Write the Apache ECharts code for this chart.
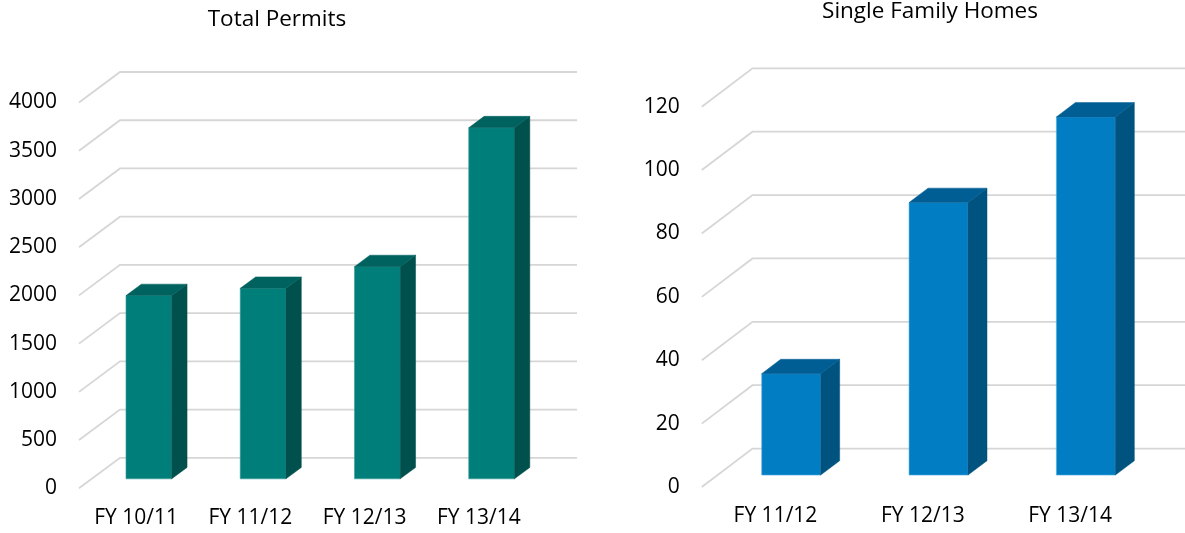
<!DOCTYPE html>
<html>
<head>
<meta charset="utf-8">
<script src="https://cdn.jsdelivr.net/npm/echarts@6/dist/echarts.min.js"></script>
<style>
html,body{margin:0;padding:0;background:#fff;}
#chart{width:1185px;height:533px;}
</style>
</head>
<body>
<div id="chart"></div>
<script>
// ---- data ----
const permitCategories = ['FY 10/11', 'FY 11/12', 'FY 12/13', 'FY 13/14'];
const permitValues = [1900, 1975, 2200, 3640];
const permitTicks = [0, 500, 1000, 1500, 2000, 2500, 3000, 3500, 4000];

const sfhCategories = ['FY 11/12', 'FY 12/13', 'FY 13/14'];
const sfhValues = [32, 86, 113];
const sfhTicks = [0, 20, 40, 60, 80, 100, 120];

// ---- styling / 3D projection ----
const FONT = 'Open Sans';
const leftDepth = [41, -30.5];
const rightDepth = [50.7, -38.4];
const FRONT_OFFSET = 0.31;
const BAR_DEPTH = 0.375;
const BAR_WIDTH = 0.40;
const tealColors = { front: '#007E7A', side: '#00504D', top: '#00625F', edge: '#3a9e9a' };
const blueColors = { front: '#007DC3', side: '#00527F', top: '#005E94', edge: '#5aaee0' };

function gridRender(D) {
  return function (params, api) {
    const cs = params.coordSys;
    const y = api.coord([0, api.value(1)])[1];
    const xl = cs.x, xr = cs.x + cs.width;
    return {
      type: 'polyline',
      shape: { points: [[xl, y], [xl + D[0], y + D[1]], [xr + D[0], y + D[1]]] },
      style: { stroke: '#d6d6d6', lineWidth: 1.8, fill: null },
      silent: true
    };
  };
}

function barRender(D, c) {
  return function (params, api) {
    const idx = api.value(0), v = api.value(1);
    const base = api.coord([idx, 0]);
    const top = api.coord([idx, v]);
    const bw = api.size([1, 0])[0];
    const w = bw * BAR_WIDTH;
    const x0 = base[0] - w / 2 + D[0] * FRONT_OFFSET;
    const x1 = x0 + w;
    const yb = base[1] + D[1] * FRONT_OFFSET;
    const yt = top[1] + D[1] * FRONT_OFFSET;
    const dx = D[0] * BAR_DEPTH, dy = D[1] * BAR_DEPTH;
    return {
      type: 'group',
      children: [
        { type: 'polygon', shape: { points: [[x0, yb], [x1, yb], [x1, yt], [x0, yt]] },
          style: { fill: c.front, stroke: c.edge, lineWidth: 0.6 } },
        { type: 'polygon', shape: { points: [[x1, yb], [x1 + dx, yb + dy], [x1 + dx, yt + dy], [x1, yt]] },
          style: { fill: c.side, stroke: c.side, lineWidth: 0.5 } },
        { type: 'polygon', shape: { points: [[x0, yt], [x1, yt], [x1 + dx, yt + dy], [x0 + dx, yt + dy]] },
          style: { fill: c.top, stroke: c.top, lineWidth: 0.5 } }
      ]
    };
  };
}

const axisLabelStyle = { fontFamily: FONT, fontSize: 21, color: '#000' };
const plain = v => String(v);

const chart = echarts.init(document.getElementById('chart'), null, { renderer: 'canvas' });
chart.setOption({
  backgroundColor: '#fff',
  animation: false,
  title: [
    { text: 'Total Permits', left: 272, top: 3, textAlign: 'center',
      textStyle: { fontFamily: FONT, fontSize: 22.5, fontWeight: 'normal', color: '#000' } },
    { text: 'Single Family Homes', left: 925, top: -5, textAlign: 'center',
      textStyle: { fontFamily: FONT, fontSize: 22.5, fontWeight: 'normal', color: '#000' } }
  ],
  grid: [
    { left: 79, top: 102.5, width: 457, height: 385.8, containLabel: false },
    { left: 701.8, top: 106.7, width: 442, height: 380.3, containLabel: false }
  ],
  xAxis: [
    { type: 'category', gridIndex: 0, data: permitCategories,
      axisLine: { show: false }, axisTick: { show: false },
      axisLabel: Object.assign({ margin: 19 }, axisLabelStyle) },
    { type: 'category', gridIndex: 1, data: sfhCategories,
      axisLine: { show: false }, axisTick: { show: false },
      axisLabel: Object.assign({ margin: 19 }, axisLabelStyle) }
  ],
  yAxis: [
    { type: 'value', gridIndex: 0, min: 0, max: 4000, interval: 500,
      axisLine: { show: false }, axisTick: { show: false }, splitLine: { show: false },
      axisLabel: Object.assign({ margin: 22, formatter: plain }, axisLabelStyle) },
    { type: 'value', gridIndex: 1, min: 0, max: 120, interval: 20,
      axisLine: { show: false }, axisTick: { show: false }, splitLine: { show: false },
      axisLabel: Object.assign({ margin: 22, formatter: plain }, axisLabelStyle) }
  ],
  series: [
    { type: 'custom', xAxisIndex: 0, yAxisIndex: 0, z: 1, clip: false,
      renderItem: gridRender(leftDepth), encode: { x: 0, y: 1 },
      data: permitTicks.map(t => [0, t]) },
    { type: 'custom', xAxisIndex: 1, yAxisIndex: 1, z: 1, clip: false,
      renderItem: gridRender(rightDepth), encode: { x: 0, y: 1 },
      data: sfhTicks.map(t => [0, t]) },
    { type: 'custom', name: 'Total Permits', xAxisIndex: 0, yAxisIndex: 0, z: 2, clip: false,
      renderItem: barRender(leftDepth, tealColors), encode: { x: 0, y: 1 },
      data: permitValues.map((v, i) => [i, v]) },
    { type: 'custom', name: 'Single Family Homes', xAxisIndex: 1, yAxisIndex: 1, z: 2, clip: false,
      renderItem: barRender(rightDepth, blueColors), encode: { x: 0, y: 1 },
      data: sfhValues.map((v, i) => [i, v]) }
  ]
});
</script>
</body>
</html>
